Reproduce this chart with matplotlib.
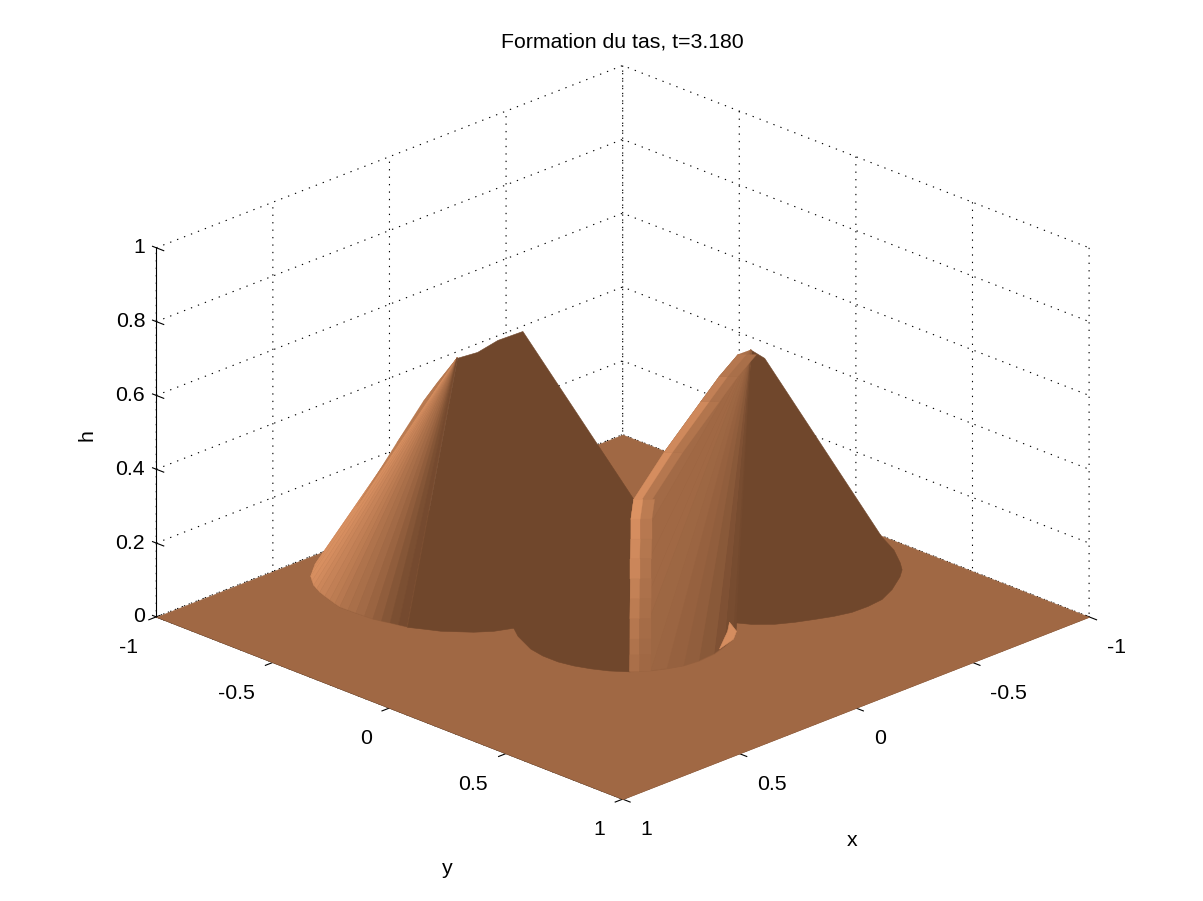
import numpy as np
import matplotlib
matplotlib.use('Agg')
import matplotlib.pyplot as plt
from matplotlib.colors import LinearSegmentedColormap
from mpl_toolkits.mplot3d.art3d import Poly3DCollection

plt.rcParams['font.family'] = ['Liberation Sans', 'DejaVu Sans']

# ticks
ticks_xy = [-1, -0.5, 0, 0.5, 1]
ticks_xy_labels = ['-1', '-0.5', '0', '0.5', '1']
ticks_h = [0, 0.2, 0.4, 0.6, 0.8, 1]
ticks_h_labels = ['0', '0.2', '0.4', '0.6', '0.8', '1']

# left heap: summit, back silhouette, base circle (x, y, h)
left_top = (0.108, -0.602, 0.58)
left_sil_x = [0.137, 0.157, 0.194, 0.252, 0.301]
left_sil_y = [-0.659, -0.699, -0.774, -0.888, -0.985]
left_sil_h = [0.505, 0.449, 0.329, 0.142, 0.0]
left_base_x = [0.372, 0.409, 0.446, 0.468, 0.489, 0.502, 0.514, 0.525, 0.535, 0.544, 0.552, 0.551, 0.550, 0.548, 0.546, 0.539, 0.531, 0.524, 0.517]
left_base_y = [-0.948, -0.920, -0.892, -0.864, -0.836, -0.810, -0.785, -0.752, -0.720, -0.690, -0.661, -0.627, -0.594, -0.559, -0.525, -0.495, -0.466, -0.437, -0.408]
left_tone = [0.55, 0.58, 0.6, 0.62, 0.7, 0.8, 0.85, 0.82, 0.8, 0.76, 0.72, 0.68, 0.64, 0.6, 0.56, 0.5, 0.45, 0.4, 0.33, 0.25, 0.17, 0.09, 0.04]

# big dark face of the left heap, with the ridge on top and the front arc below
face_x = [0.108, 0.043, -0.036, -0.098, -0.162, -0.148, 0.284, 0.324, 0.351, 0.372, 0.384, 0.384, 0.372, 0.329, 0.294, 0.354, 0.402, 0.467, 0.491, 0.517]
face_y = [-0.602, -0.581, -0.573, -0.528, -0.115, -0.113, 0.314, 0.264, 0.214, 0.161, 0.105, 0.040, -0.024, -0.122, -0.175, -0.201, -0.239, -0.315, -0.361, -0.408]
face_h = [0.58, 0.585, 0.60, 0.62, 0.25, 0.20, 0, 0, 0, 0, 0, 0, 0, 0, 0, 0, 0, 0, 0, 0]

# right heap: summit, silhouette from the valley up, valley, front arc
right_top = (-0.525, 0.025, 0.60)
right_rim_x = [-0.485, -0.426, -0.370, -0.255, -0.162, -0.148, -0.035, 0.078, 0.191, 0.284, 0.233, 0.188, 0.135, 0.076, 0.005, -0.054, -0.117, -0.167, -0.201]
right_rim_y = [0.009, -0.013, -0.035, -0.079, -0.115, -0.113, -0.002, 0.110, 0.222, 0.314, 0.354, 0.377, 0.397, 0.403, 0.397, 0.380, 0.356, 0.319, 0.255]
right_rim_h = [0.593, 0.542, 0.483, 0.362, 0.25, 0.20, 0.148, 0.095, 0.043, 0, 0, 0, 0, 0, 0, 0, 0, 0, 0]
right_tone = [0.45, 0.45, 0.42, 0.42, 0.4, 0.4, 0.38, 0.38, 0.38, 0.36, 0.34, 0.3, 0.26, 0.2, 0.12, 0.06, 0.03, 0.02]

# lit bands along the right heap's silhouette
sil_x = [-0.162, -0.255, -0.370, -0.426, -0.485]
sil_y = [-0.115, -0.079, -0.035, -0.013, 0.009]
sil_h = [0.25, 0.362, 0.483, 0.542, 0.593]
sil_tone1 = [0.8, 0.75, 0.65, 0.55]
sil_tone2 = [0.55, 0.52, 0.48, 0.45]

# lit bands along the valley
val_x = [-0.162, -0.148, -0.092, -0.035, 0.021, 0.078, 0.135, 0.191, 0.237, 0.284]
val_y = [-0.115, -0.113, -0.057, -0.002, 0.054, 0.110, 0.166, 0.222, 0.268, 0.314]
val_h = [0.25, 0.20, 0.174, 0.148, 0.122, 0.095, 0.069, 0.043, 0.022, 0.0]
val_tone1 = [0.85, 0.8, 0.76, 0.72, 0.66, 0.6, 0.55, 0.5, 0.46]
val_tone2 = [0.6, 0.56, 0.54, 0.51, 0.48, 0.45, 0.42, 0.4, 0.38]

# dark side of the right heap
dark_x = [-0.525, -0.560, -0.995, -0.950, -0.893, -0.859, -0.816, -0.729, -0.653, -0.585, -0.518, -0.457, -0.400, -0.341, -0.287, -0.237, -0.201]
dark_y = [0.025, 0.047, 0.115, 0.211, 0.295, 0.337, 0.371, 0.424, 0.457, 0.465, 0.463, 0.446, 0.422, 0.395, 0.363, 0.314, 0.255]
dark_h = [0.60, 0.575, 0, 0, 0, 0, 0, 0, 0, 0, 0, 0, 0, 0, 0, 0, 0]

# small lit crescent at the edge of the front arc
cres_x = [-0.201, -0.167, -0.117, -0.033, -0.148]
cres_y = [0.255, 0.319, 0.356, 0.380, 0.300]
cres_h = [0, 0, 0, 0, 0]

copper = LinearSegmentedColormap.from_list('tas', ['#70472c', '#ee9f6c'])
floor_tone = 0.38

def fan(top, xs, ys, hs, tones):
	pts = list(zip(xs, ys, hs))
	polys = [[top, pts[i], pts[i + 1]] for i in range(len(pts) - 1)]
	return Poly3DCollection(polys, facecolors=copper(np.array(tones)), edgecolors=copper(np.array(tones)), linewidths=0.25)

def patch(xs, ys, hs, tone):
	return Poly3DCollection([list(zip(xs, ys, hs))], facecolors=copper(tone), edgecolors=copper(tone), linewidths=0.4)

def band(xs, ys, hs, width, tones):						# strip on the inner side of a line, width in data units
	polys = []
	for i in range(len(hs) - 1):
		polys.append([(xs[i], ys[i], hs[i]), (xs[i + 1], ys[i + 1], hs[i + 1]),
			(xs[i + 1] - width, ys[i + 1] + width, hs[i + 1]), (xs[i] - width, ys[i] + width, hs[i])])
	return Poly3DCollection(polys, facecolors=copper(np.array(tones)), edgecolors=copper(np.array(tones)), linewidths=0.2)

left_all_x = left_sil_x + left_base_x
left_all_y = left_sil_y + left_base_y
left_all_h = left_sil_h + [0] * len(left_base_x)

fig = plt.figure(figsize=(12.03, 9.01), dpi=100)
ax = fig.add_axes([9 / 1203, 6 / 901, 1, 1], projection='3d', proj_type='ortho')
ax.computed_zorder = False
ax.view_init(elev=23, azim=45)
ax.set_box_aspect((658, 658, 400), zoom=1.094)
ax.set_xlim(-1, 1, view_margin=0)
ax.set_ylim(-1, 1, view_margin=0)
ax.set_zlim(0, 1, view_margin=0)

shapes = [
	patch([-1, 1, 1, -1], [-1, -1, 1, 1], [0, 0, 0, 0], floor_tone),
	patch([left_top[0]] + left_all_x, [left_top[1]] + left_all_y, [left_top[2]] + left_all_h, 0.3),		# underlay so the fan has no gaps
	fan(left_top, left_all_x, left_all_y, left_all_h, left_tone),
	patch(face_x, face_y, face_h, 0.0),
	patch(dark_x, dark_y, dark_h, 0.0),
	patch([right_top[0]] + right_rim_x, [right_top[1]] + right_rim_y, [right_top[2]] + right_rim_h, 0.3),
	fan(right_top, right_rim_x, right_rim_y, right_rim_h, right_tone),
	band(sil_x, sil_y, sil_h, 0.04, sil_tone2),
	band(val_x, val_y, val_h, 0.045, val_tone2),
	band(sil_x, sil_y, sil_h, 0.018, sil_tone1),
	band(val_x, val_y, val_h, 0.02, val_tone1),
	patch(cres_x, cres_y, cres_h, 0.8),
]
for i, shape in enumerate(shapes):
	shape.set_zorder(i + 1)
	ax.add_collection3d(shape)
	shape.set_clip_on(False)

ax.set_xticks(ticks_xy)
ax.set_xticklabels(ticks_xy_labels, ha='left')
ax.set_yticks(ticks_xy)
ax.set_yticklabels(ticks_xy_labels, ha='right')
ax.set_zticks(ticks_h)
ax.set_zticklabels(ticks_h_labels, ha='right', va='center')
ax.tick_params(labelsize=15.3, pad=5)
ax.zaxis.set_tick_params(pad=-4)
ax.zaxis._get_tickdir = lambda pos: 1

ax.set_title('Formation du tas, t=3.180', fontsize=15.3, y=1.012)
ax.title.set_x(0.5133)
fig.text(852 / 1203, 1 - 840 / 901, 'x', fontsize=15.3, ha='center', va='center')
fig.text(447 / 1203, 1 - 868 / 901, 'y', fontsize=15.3, ha='center', va='center')
fig.text(87 / 1203, 1 - 435 / 901, 'h', fontsize=15.3, ha='center', va='center', rotation=90)

for axis in (ax.xaxis, ax.yaxis, ax.zaxis):
	axis.set_pane_color((1, 1, 1, 1))
	axis.pane.set_edgecolor('none')
	axis._axinfo['grid'].update(color='black', linestyle=(0, (1.2, 5.5)), linewidth=0.8)
	axis._axinfo['axisline']['color'] = 'black'
	axis._axinfo['axisline']['linewidth'] = 1.3
	axis._axinfo['tick']['color'] = 'black'

fig.savefig('out.png', dpi=100)
